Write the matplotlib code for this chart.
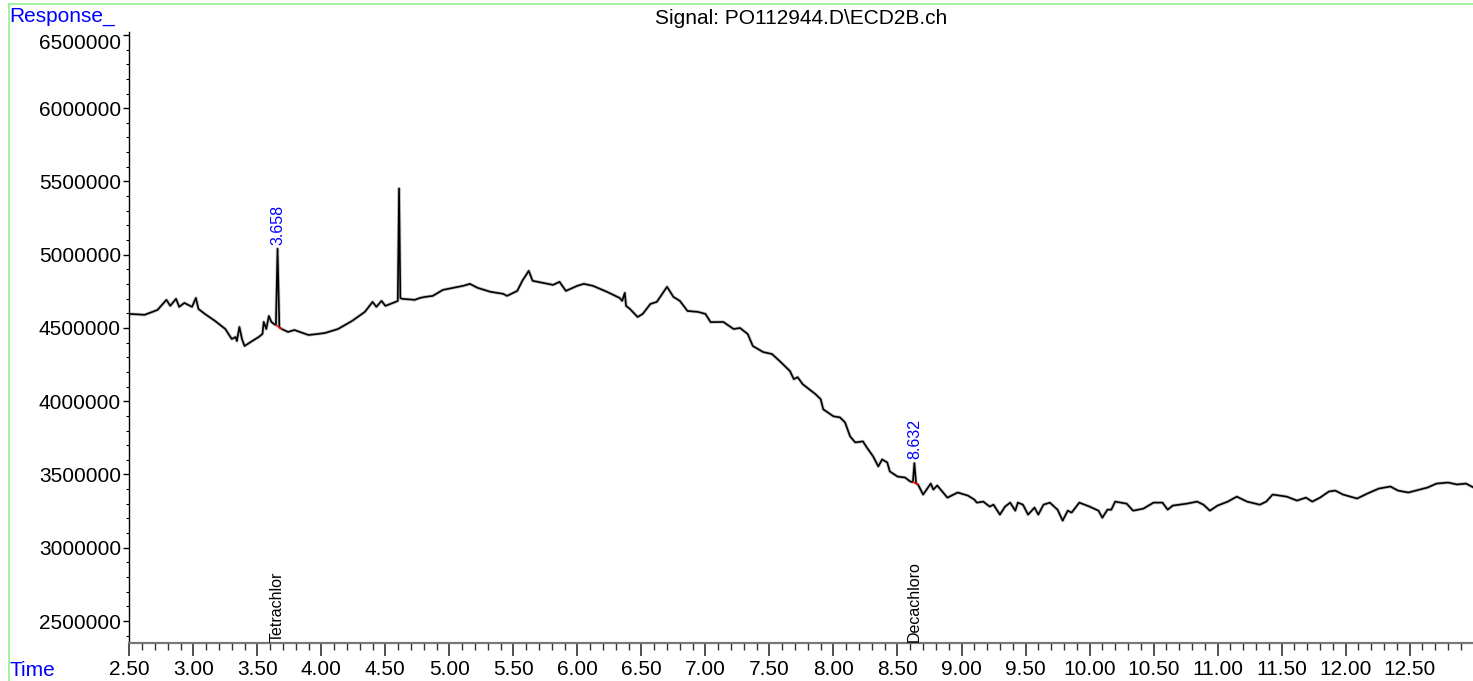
"""Chromatogram trace for PO112944.D, ECD2B channel."""

import matplotlib

matplotlib.use("Agg")
import matplotlib.pyplot as plt
import matplotlib.transforms as mtransforms
from matplotlib.lines import Line2D
from matplotlib.ticker import FuncFormatter, MultipleLocator

BLUE = "#0000FF"
GREEN = "#90F090"
RED = "#FF0000"

plt.rcParams.update(
    {
        "font.family": ["Liberation Sans", "DejaVu Sans"],
        "font.size": 15,
        "xtick.labelsize": 15,
        "ytick.labelsize": 15,
    }
)

title = "Signal: PO112944.D\\ECD2B.ch"

time_min = [
    2.50, 2.62, 2.72, 2.79, 2.82, 2.865, 2.89, 2.93, 2.99, 3.02,
    3.04, 3.09, 3.17, 3.25, 3.30, 3.33, 3.34, 3.36, 3.38, 3.40,
    3.46, 3.51, 3.54, 3.55, 3.57, 3.59, 3.61, 3.63, 3.645, 3.658,
    3.672, 3.69, 3.74, 3.79, 3.90, 3.97, 4.03, 4.13, 4.24, 4.34,
    4.40, 4.43, 4.47, 4.50, 4.58, 4.597, 4.607, 4.617, 4.63, 4.73,
    4.77, 4.81, 4.87, 4.95, 5.11, 5.16, 5.22, 5.32, 5.42, 5.45,
    5.53, 5.57, 5.62, 5.65, 5.73, 5.81, 5.86, 5.91, 6.00, 6.05,
    6.12, 6.23, 6.33, 6.35, 6.37, 6.38, 6.41, 6.47, 6.51, 6.57,
    6.62, 6.70, 6.75, 6.80, 6.86, 6.94, 7.00, 7.04, 7.14, 7.22,
    7.27, 7.33, 7.37, 7.45, 7.52, 7.58, 7.66, 7.69, 7.72, 7.76,
    7.83, 7.86, 7.90, 7.92, 8.00, 8.05, 8.09, 8.13, 8.17, 8.23,
    8.26, 8.31, 8.35, 8.38, 8.42, 8.44, 8.50, 8.56, 8.60, 8.62,
    8.632, 8.645, 8.66, 8.70, 8.76, 8.78, 8.81, 8.89, 8.97, 9.05,
    9.10, 9.12, 9.17, 9.22, 9.25, 9.30, 9.34, 9.38, 9.42, 9.44,
    9.48, 9.52, 9.57, 9.60, 9.64, 9.69, 9.75, 9.79, 9.83, 9.86,
    9.92, 10.00, 10.07, 10.10, 10.14, 10.17, 10.20, 10.29, 10.34, 10.42,
    10.50, 10.57, 10.61, 10.65, 10.76, 10.84, 10.89, 10.94, 11.00, 11.08,
    11.15, 11.23, 11.33, 11.38, 11.43, 11.54, 11.62, 11.69, 11.74, 11.80,
    11.87, 11.92, 11.98, 12.09, 12.17, 12.26, 12.35, 12.41, 12.49, 12.58,
    12.64, 12.71, 12.80, 12.87, 12.94, 13.00,
]

response = [
    4596000, 4590000, 4623000, 4692000, 4651000, 4699000, 4644000, 4671000, 4644000, 4705000,
    4630000, 4596000, 4548000, 4493000, 4425000, 4438000, 4411000, 4507000, 4425000, 4377000,
    4411000, 4438000, 4459000, 4541000, 4493000, 4582000, 4541000, 4527000, 4520000, 5041000,
    4505000, 4493000, 4473000, 4486000, 4452000, 4459000, 4466000, 4493000, 4548000, 4610000,
    4678000, 4644000, 4685000, 4651000, 4678000, 4685000, 5452000, 4705000, 4699000, 4692000,
    4705000, 4712000, 4719000, 4760000, 4788000, 4801000, 4774000, 4747000, 4733000, 4719000,
    4753000, 4822000, 4890000, 4822000, 4808000, 4794000, 4815000, 4753000, 4788000, 4801000,
    4788000, 4747000, 4705000, 4685000, 4740000, 4651000, 4630000, 4575000, 4596000, 4664000,
    4678000, 4781000, 4712000, 4685000, 4616000, 4610000, 4596000, 4540000, 4541000, 4493000,
    4500000, 4459000, 4377000, 4336000, 4322000, 4274000, 4206000, 4151000, 4164000, 4116000,
    4069000, 4048000, 4014000, 3945000, 3897000, 3890000, 3856000, 3760000, 3719000, 3726000,
    3685000, 3623000, 3555000, 3603000, 3582000, 3521000, 3486000, 3479000, 3452000, 3448000,
    3578000, 3440000, 3432000, 3363000, 3438000, 3397000, 3425000, 3342000, 3377000, 3356000,
    3329000, 3308000, 3315000, 3281000, 3294000, 3226000, 3281000, 3308000, 3253000, 3308000,
    3294000, 3226000, 3274000, 3226000, 3294000, 3308000, 3260000, 3185000, 3253000, 3240000,
    3308000, 3281000, 3253000, 3205000, 3260000, 3260000, 3315000, 3301000, 3253000, 3267000,
    3308000, 3308000, 3260000, 3288000, 3301000, 3315000, 3294000, 3253000, 3288000, 3315000,
    3349000, 3315000, 3294000, 3315000, 3363000, 3349000, 3322000, 3342000, 3315000, 3342000,
    3384000, 3390000, 3363000, 3336000, 3370000, 3404000, 3418000, 3390000, 3377000, 3397000,
    3411000, 3438000, 3445000, 3432000, 3438000, 3411000,
]

# integrated peaks: retention time, apex, baseline start/end
peak_rt = [3.658, 8.632]
peak_apex = [5041000, 3578000]
base_t = [(3.645, 3.69), (8.62, 8.66)]
base_v = [(4520000, 4493000), (3448000, 3432000)]
compound_names = ["Tetrachlor", "Decachloro"]

x_major = [2.5 + 0.5 * i for i in range(21)]
x_minor = [round(2.5 + 0.1 * i, 2) for i in range(105)]

W, H = 1473, 681
fig = plt.figure(figsize=(W / 100, H / 100), dpi=100)
ax = fig.add_axes([129.3 / W, (H - 643) / H, (W - 129.3) / W, (643 - 32) / H])

# faint halo gives the trace its slightly fuzzy look
ax.plot(time_min, response, color="#9A9A9A", lw=2.4, alpha=0.6, zorder=2)
ax.plot(time_min, response, color="black", lw=1.2, zorder=3)
for (t0, t1), (v0, v1) in zip(base_t, base_v):
    ax.plot([t0, t1], [v0, v1], color=RED, lw=1.0, zorder=4)

ax.set_xlim(2.5, 12.995)
ax.set_ylim(2350000, 6520000)

ax.set_xticks([t for t in x_major if t <= 12.5])
ax.set_xticks([t for t in x_minor if t < 12.995], minor=True)
ax.xaxis.set_major_formatter(FuncFormatter(lambda v, p: f"{v:.2f}"))
ax.yaxis.set_major_locator(MultipleLocator(500000))
ax.yaxis.set_minor_locator(MultipleLocator(100000))
ax.yaxis.set_major_formatter(FuncFormatter(lambda v, p: f"{int(round(v))}"))

for side in ("top", "right"):
    ax.spines[side].set_visible(False)
ax.spines["bottom"].set_color("#777777")
ax.spines["bottom"].set_linewidth(1.6)
ax.spines["left"].set_color("black")
ax.spines["left"].set_linewidth(1.0)

ax.tick_params(axis="x", which="major", length=9, width=1.2, color="#333333", pad=3)
ax.tick_params(axis="x", which="minor", length=5, width=1.0, color="#333333")
ax.tick_params(axis="y", which="major", length=4, width=1.0, pad=2)
ax.tick_params(axis="y", which="minor", length=2.5, width=0.8)

fig.canvas.draw()
for lab in ax.get_yticklabels():
    if lab.get_text() == "6500000":
        lab.set_transform(lab.get_transform() + mtransforms.ScaledTranslation(0, -7 / 100, fig.dpi_scale_trans))

# peak retention times and compound labels
for rt, apex in zip(peak_rt, peak_apex):
    ax.annotate(f"{rt:.3f}", (rt, apex), xytext=(0, 3), textcoords="offset points",
                rotation=90, ha="center", va="bottom", color=BLUE, fontsize=11.5)
for rt, name in zip(peak_rt, compound_names):
    ax.annotate(name, (rt, 2350000), xytext=(0, 1), textcoords="offset points",
                rotation=90, ha="center", va="bottom", color="black", fontsize=11.5)

fig.text(9 / W, 1 - 17 / H, "Response_", color=BLUE, fontsize=15, ha="left", va="center")
fig.text(9 / W, 1 - 671 / H, "Time", color=BLUE, fontsize=15, ha="left", va="center")
fig.text((129.3 + W) / 2 / W, 1 - 19 / H, title, color="black", fontsize=15, ha="center", va="center")

# light frame around the plot area
fig.add_artist(Line2D([9 / W, 1], [1 - 4 / H, 1 - 4 / H], color=GREEN, lw=1.2))
fig.add_artist(Line2D([9 / W, 9 / W], [0, 1 - 4 / H], color=GREEN, lw=1.2))

fig.savefig("out.png", dpi=100, facecolor="white")
